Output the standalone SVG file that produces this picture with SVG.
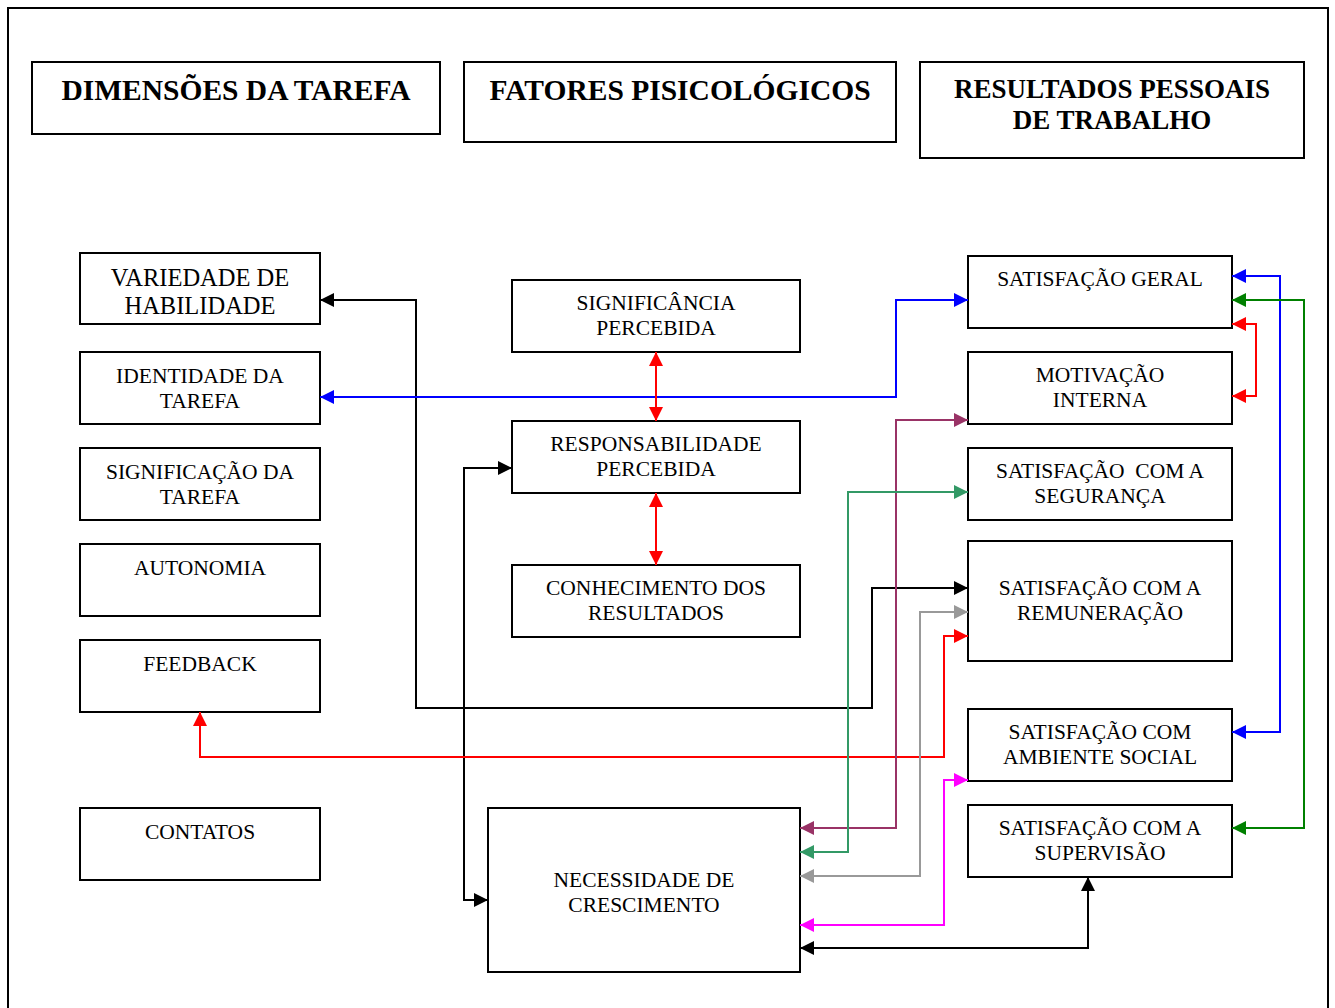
<svg xmlns="http://www.w3.org/2000/svg" width="1335" height="1008" viewBox="0 0 1335 1008">
<style>
.box{fill:#fff;stroke:#000;stroke-width:2}
.t{font-family:"Liberation Serif","Times New Roman",serif;font-size:21.5px;fill:#000;text-anchor:middle}
.tl{font-size:24.5px}
.h{font-family:"Liberation Serif","Times New Roman",serif;font-size:29.5px;font-weight:bold;fill:#000;text-anchor:middle}
.h3{font-size:27px}
.c{fill:none;stroke-width:2}
</style>
<defs>
<marker id="ak" viewBox="0 0 10 10" refX="10" refY="5" markerWidth="7" markerHeight="7" markerUnits="strokeWidth" orient="auto-start-reverse"><path d="M0,0L10,5L0,10z" fill="#000"/></marker>
<marker id="ab" viewBox="0 0 10 10" refX="10" refY="5" markerWidth="7" markerHeight="7" markerUnits="strokeWidth" orient="auto-start-reverse"><path d="M0,0L10,5L0,10z" fill="#0000ff"/></marker>
<marker id="ar" viewBox="0 0 10 10" refX="10" refY="5" markerWidth="7" markerHeight="7" markerUnits="strokeWidth" orient="auto-start-reverse"><path d="M0,0L10,5L0,10z" fill="#ff0000"/></marker>
<marker id="ag" viewBox="0 0 10 10" refX="10" refY="5" markerWidth="7" markerHeight="7" markerUnits="strokeWidth" orient="auto-start-reverse"><path d="M0,0L10,5L0,10z" fill="#008000"/></marker>
<marker id="am" viewBox="0 0 10 10" refX="10" refY="5" markerWidth="7" markerHeight="7" markerUnits="strokeWidth" orient="auto-start-reverse"><path d="M0,0L10,5L0,10z" fill="#993366"/></marker>
<marker id="at" viewBox="0 0 10 10" refX="10" refY="5" markerWidth="7" markerHeight="7" markerUnits="strokeWidth" orient="auto-start-reverse"><path d="M0,0L10,5L0,10z" fill="#339966"/></marker>
<marker id="ay" viewBox="0 0 10 10" refX="10" refY="5" markerWidth="7" markerHeight="7" markerUnits="strokeWidth" orient="auto-start-reverse"><path d="M0,0L10,5L0,10z" fill="#999999"/></marker>
<marker id="ap" viewBox="0 0 10 10" refX="10" refY="5" markerWidth="7" markerHeight="7" markerUnits="strokeWidth" orient="auto-start-reverse"><path d="M0,0L10,5L0,10z" fill="#ff00ff"/></marker>
</defs>
<rect x="0" y="0" width="1335" height="1008" fill="#fff"/>
<rect x="8" y="8" width="1320" height="1010" fill="none" stroke="#000" stroke-width="2"/>

<g id="h1"><rect class="box" x="32" y="62" width="408" height="72"/><text class="h" x="236" y="100">DIMENSÕES DA TAREFA</text></g>
<g id="h2"><rect class="box" x="464" y="62" width="432" height="80"/><text class="h" x="680" y="100">FATORES PISICOLÓGICOS</text></g>
<g id="h3"><rect class="box" x="920" y="62" width="384" height="96"/><text class="h h3" x="1112" y="98">RESULTADOS PESSOAIS</text><text class="h h3" x="1112" y="129">DE TRABALHO</text></g>

<g id="variedade"><rect class="box" x="80" y="253" width="240" height="71"/><text class="t tl" x="200" y="286">VARIEDADE DE</text><text class="t tl" x="200" y="314">HABILIDADE</text></g>
<g id="identidade"><rect class="box" x="80" y="352" width="240" height="72"/><text class="t" x="200" y="383">IDENTIDADE DA</text><text class="t" x="200" y="408">TAREFA</text></g>
<g id="significacao"><rect class="box" x="80" y="448" width="240" height="72"/><text class="t" x="200" y="479">SIGNIFICAÇÃO DA</text><text class="t" x="200" y="504">TAREFA</text></g>
<g id="autonomia"><rect class="box" x="80" y="544" width="240" height="72"/><text class="t" x="200" y="575">AUTONOMIA</text></g>
<g id="feedback"><rect class="box" x="80" y="640" width="240" height="72"/><text class="t" x="200" y="671">FEEDBACK</text></g>
<g id="contatos"><rect class="box" x="80" y="808" width="240" height="72"/><text class="t" x="200" y="839">CONTATOS</text></g>

<g id="significancia"><rect class="box" x="512" y="280" width="288" height="72"/><text class="t" x="656" y="310">SIGNIFICÂNCIA</text><text class="t" x="656" y="335">PERCEBIDA</text></g>
<g id="responsabilidade"><rect class="box" x="512" y="421" width="288" height="72"/><text class="t" x="656" y="451">RESPONSABILIDADE</text><text class="t" x="656" y="476">PERCEBIDA</text></g>
<g id="conhecimento"><rect class="box" x="512" y="565" width="288" height="72"/><text class="t" x="656" y="595">CONHECIMENTO DOS</text><text class="t" x="656" y="620">RESULTADOS</text></g>
<g id="necessidade"><rect class="box" x="488" y="808" width="312" height="164"/><text class="t" x="644" y="887">NECESSIDADE DE</text><text class="t" x="644" y="912">CRESCIMENTO</text></g>

<g id="geral"><rect class="box" x="968" y="256" width="264" height="72"/><text class="t" x="1100" y="286">SATISFAÇÃO GERAL</text></g>
<g id="motivacao"><rect class="box" x="968" y="352" width="264" height="72"/><text class="t" x="1100" y="382">MOTIVAÇÃO</text><text class="t" x="1100" y="407">INTERNA</text></g>
<g id="seguranca"><rect class="box" x="968" y="448" width="264" height="72"/><text class="t" x="1100" y="478" xml:space="preserve">SATISFAÇÃO  COM A</text><text class="t" x="1100" y="503">SEGURANÇA</text></g>
<g id="remuneracao"><rect class="box" x="968" y="541" width="264" height="120"/><text class="t" x="1100" y="595">SATISFAÇÃO COM A</text><text class="t" x="1100" y="620">REMUNERAÇÃO</text></g>
<g id="social"><rect class="box" x="968" y="709" width="264" height="72"/><text class="t" x="1100" y="739">SATISFAÇÃO COM</text><text class="t" x="1100" y="764">AMBIENTE SOCIAL</text></g>
<g id="supervisao"><rect class="box" x="968" y="805" width="264" height="72"/><text class="t" x="1100" y="835">SATISFAÇÃO COM A</text><text class="t" x="1100" y="860">SUPERVISÃO</text></g>

<g id="connectors">
<path class="c" stroke="#000" d="M320,300H416V708H872V588H968" marker-start="url(#ak)" marker-end="url(#ak)"/>
<path class="c" stroke="#0000ff" d="M320,397H896V300H968" marker-start="url(#ab)" marker-end="url(#ab)"/>
<path class="c" stroke="#ff0000" d="M656,352V421" marker-start="url(#ar)" marker-end="url(#ar)"/>
<path class="c" stroke="#ff0000" d="M656,493V565" marker-start="url(#ar)" marker-end="url(#ar)"/>
<path class="c" stroke="#000" d="M488,900H464V468H512" marker-start="url(#ak)" marker-end="url(#ak)"/>
<path class="c" stroke="#ff0000" d="M200,712V757H944V636H968" marker-start="url(#ar)" marker-end="url(#ar)"/>
<path class="c" stroke="#993366" d="M800,828H896V420H968" marker-start="url(#am)" marker-end="url(#am)"/>
<path class="c" stroke="#339966" d="M800,852H848V492H968" marker-start="url(#at)" marker-end="url(#at)"/>
<path class="c" stroke="#999999" d="M800,876H920V612H968" marker-start="url(#ay)" marker-end="url(#ay)"/>
<path class="c" stroke="#ff00ff" d="M800,925H944V780H968" marker-start="url(#ap)" marker-end="url(#ap)"/>
<path class="c" stroke="#000" d="M800,948H1088V877" marker-start="url(#ak)" marker-end="url(#ak)"/>
<path class="c" stroke="#0000ff" d="M1232,276H1280V732H1232" marker-start="url(#ab)" marker-end="url(#ab)"/>
<path class="c" stroke="#008000" d="M1232,300H1304V828H1232" marker-start="url(#ag)" marker-end="url(#ag)"/>
<path class="c" stroke="#ff0000" d="M1232,324H1256V396H1232" marker-start="url(#ar)" marker-end="url(#ar)"/>
</g>
</svg>
